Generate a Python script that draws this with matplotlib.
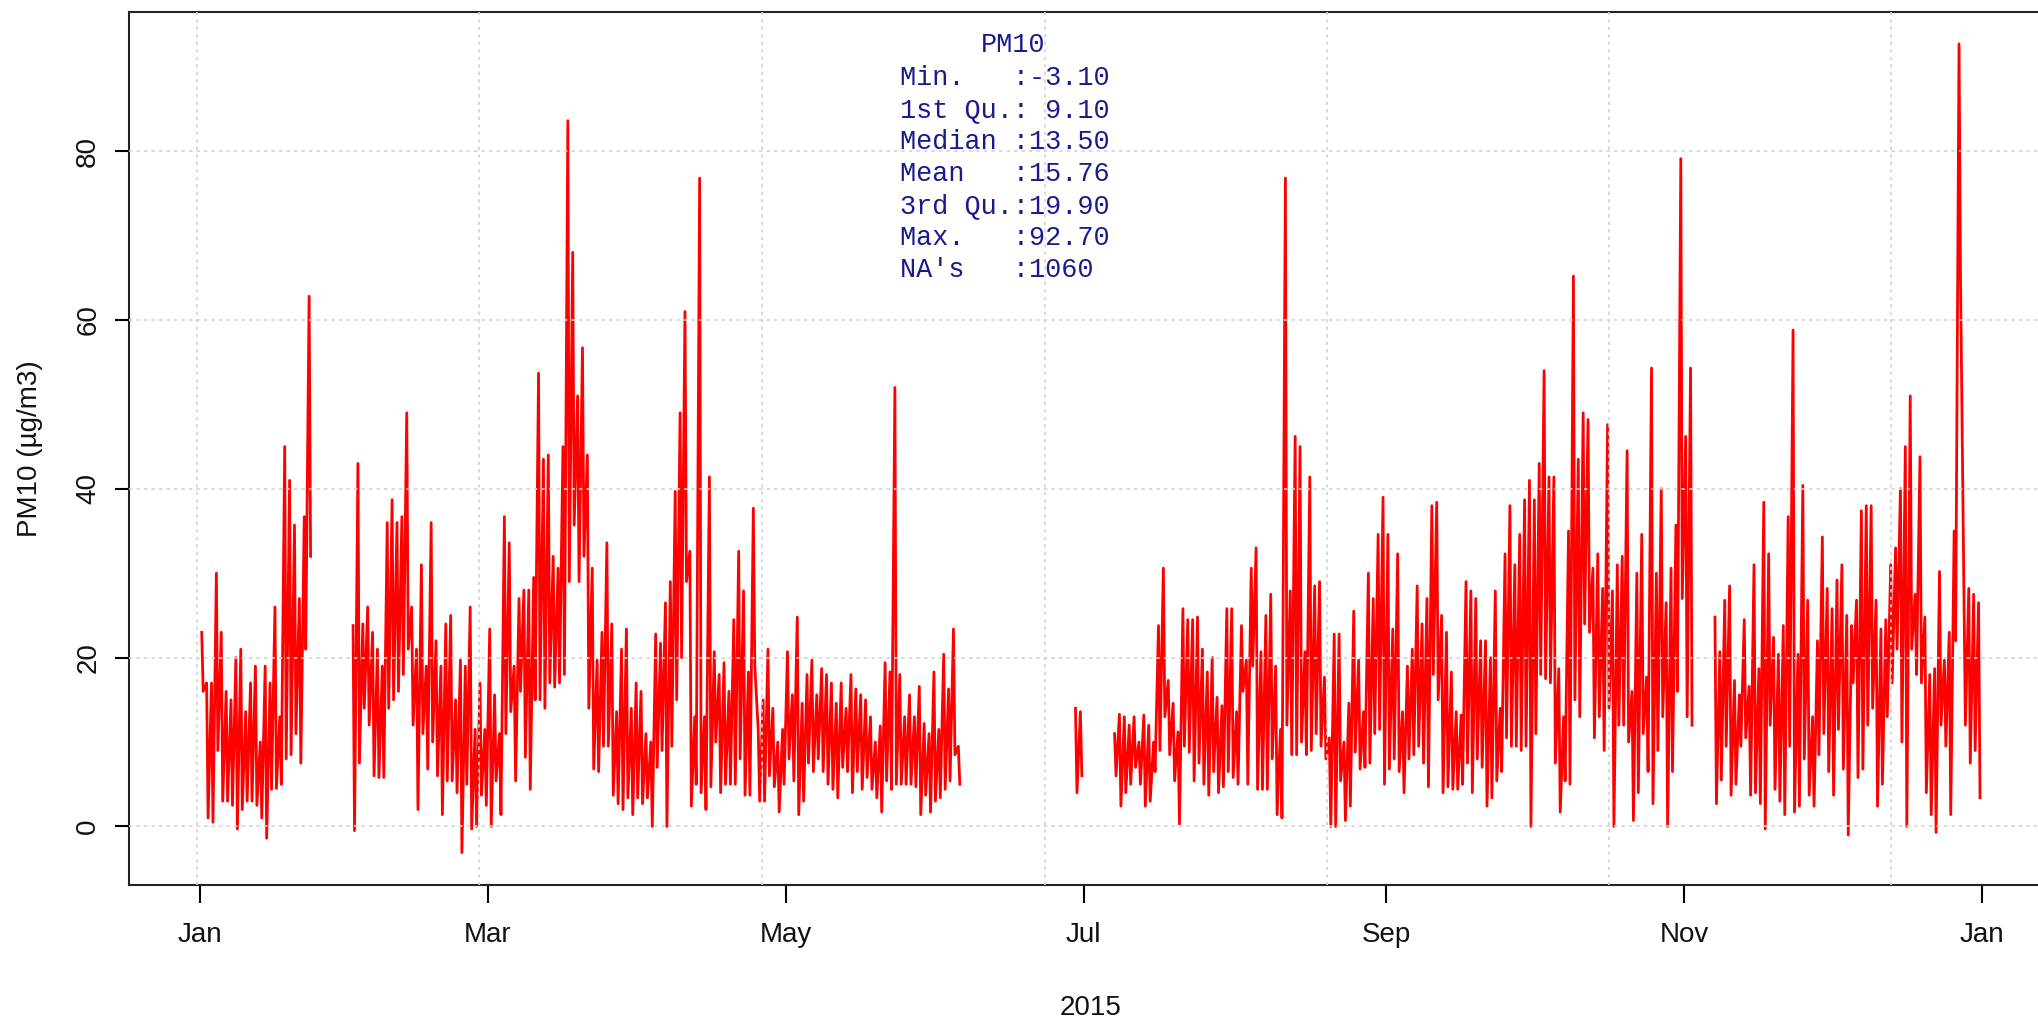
import numpy as np
import matplotlib
matplotlib.use("Agg")
import matplotlib.pyplot as plt

nan = np.nan

# daily high / low of hourly PM10 (µg/m3), day 0 = 1 Jan 2015
pm10_hi = ([23, 17, 17, 30, 23, 16, 15, 20, 21, 13.6, 17, 19, 10, 19, 17, 26, 13, 45, 41, 35.7, 27, 36.7, 62.8]
           + [nan] * 8
           + [23.8, 43, 24, 26, 23, 21, 19, 36, 38.7, 36, 36.7, 49, 26, 21]
           + [31, 19, 36, 22, 19, 24, 25, 15, 19.7, 19, 26, 11.5, 17, 11.5, 23.4, 15.6, 11, 36.7, 33.6, 19,
              27, 28, 28, 29.5, 53.7, 43.5, 44, 32, 30.6, 45, 83.6, 68, 51, 56.7, 44, 30.6, 19.7, 23, 33.6, 24,
              13.6, 21, 23.4, 14, 17, 16, 11, 10, 22.8]
           + [21.7, 26.5, 29, 39.7, 49, 61, 32.6, 13, 76.8, 13, 41.4, 20.7, 18, 19.4, 16, 24.5, 32.6, 27.9,
              18.3, 37.7, 11.5, 15, 21, 14, 10, 11.5, 20.7, 15.6, 24.8, 14.6, 18, 19.7, 15.6, 18.7, 18, 17,
              14.6, 17, 14, 18, 16.3, 15.6, 15, 13, 10, 11.9, 19.4, 18.3, 52]
           + [18, 13, 15.6, 13, 16.6, 12.2, 11, 18.3, 11.5, 20.4, 16.3, 23.4, 9.5]
           + [nan] * 23
           + [14, 13.6]
           + [nan] * 6
           + [11, 13.3, 13, 12, 13, 10]
           + [13.2, 12, 10, 23.8, 30.6, 17.3, 14.6, 11.2, 25.8, 24.5, 24.5, 24.8, 21, 18.3, 20, 15.3, 14.3,
              25.8, 25.8, 13.6, 23.8, 19.7, 30.6, 33, 20.7, 25, 27.5, 19, 11.5, 76.8, 27.9, 46.2, 45, 20.7,
              41.4, 28.5, 29, 17.7, 10.5, 22.8, 22.8, 10, 14.6, 25.5, 19.7, 13.6, 30, 27, 34.6]
           + [39, 34.6, 23.4, 32.3, 13.6, 19, 21, 28.5, 24, 27, 38, 38.4, 25, 23, 18.3, 13.6, 13.2, 29, 27.9,
              27, 22, 22, 20, 27.9, 14, 32.3, 38, 31, 34.6, 38.7, 41, 38.7, 43, 54, 41.4, 41.4, 18.7, 13, 35,
              65.2, 43.5, 49, 48.2, 30.6, 32.3, 28.2, 47.6, 27.9, 31]
           + [32, 44.5, 16, 30, 34.6, 17.7, 54.3, 30, 40, 26.5, 30.6, 35.7, 79.1, 46.2, 54.3]
           + [nan] * 4
           + [24.8, 20.7, 26.8, 28.5, 17.3, 15.6, 24.5, 16.6, 31, 18.7, 38.4, 32.3, 22.4, 20.4, 23.8, 36.7,
              58.8, 20.4, 40.4, 26.8, 13, 22, 34.3, 28.2, 25.8, 29.2, 31, 25, 23.8, 26.8]
           + [37.4, 38, 38, 26.8, 23.4, 24.5, 31, 33, 40, 45, 51, 27.5, 43.8, 24.8, 18, 18.7, 30.2, 19.7, 23,
              35, 92.7, 28.5, 28.2, 27.5, 26.5])

pm10_lo = ([16, 1, 0.5, 9, 3, 3, 2.5, -0.3, 2, 3, 3, 2.5, 1, -1.4, 4.4, 4.5, 5, 8, 8.5, 11, 7.5, 21, 32]
           + [nan] * 8
           + [-0.5, 7.5, 14, 12, 6, 5.8, 5.8, 14, 15, 16, 18, 21, 12, 2]
           + [11, 6.8, 10, 6, 1.4, 5.4, 5.4, 4, -3.1, 5, -0.3, 0, 3.7, 2.5, 0, 5.4, 1.4, 11, 13.6, 5.4, 16,
              8.2, 4.4, 15, 15, 14, 17, 16.5, 17, 18, 29, 35.7, 29, 32, 14, 6.8, 6.5, 9.5, 9.5, 3.7, 2.7, 2,
              3.4, 1.4, 3.4, 2.7, 3.4, 0, 7]
           + [9, 0, 9.5, 15, 20, 29, 2.4, 5, 4, 2, 4.7, 10, 4, 5, 5, 5, 8, 3.7, 3.7, 19, 3, 3, 6, 4.7, 1.7, 5,
              8, 5.4, 1.4, 3, 7.5, 6.5, 8, 6.5, 5, 4.4, 3.4, 7, 6.5, 4, 6.5, 4.4, 5.8, 4.4, 3.4, 1.7, 5.4,
              4.4, 5]
           + [5, 5, 5, 4.7, 1.4, 3.7, 1.7, 3, 3.4, 4.4, 5.4, 8.5, 5]
           + [nan] * 23
           + [4, 6]
           + [nan] * 6
           + [6, 2.4, 4, 5, 7, 5]
           + [2.4, 3, 6.5, 9, 13, 8.5, 5.4, 0.3, 9.5, 8.8, 5.4, 7.5, 5, 3.7, 6.5, 4, 4.7, 6.5, 5.8, 5, 16, 5,
              19, 4.4, 4.4, 4.4, 8, 1.4, 1, 12, 8.5, 8.5, 10, 8.5, 9, 11, 9.5, 8, 0, 0, 5.4, 0.7, 2.4, 8.8,
              6.8, 7, 7.5, 11, 11.5]
           + [5, 6.8, 8, 6.5, 4, 8, 8.5, 9.5, 7.5, 4.7, 18, 15, 4, 4.7, 4.4, 4.4, 5, 7.5, 4, 8, 7, 2.4, 3.4,
              5.4, 6.5, 10.5, 9.5, 9.5, 9, 9.5, 0, 11, 18, 17.5, 17, 7.5, 1.7, 5.4, 5, 15, 13, 24, 23, 10.5,
              13, 9, 14, 0, 12]
           + [12, 10, 0.7, 4, 11, 6.5, 2.7, 9, 13, 0, 6.5, 16, 27, 13, 12]
           + [nan] * 4
           + [2.7, 5.5, 9.5, 3.7, 5, 9.5, 10.5, 3.7, 4, 2.7, -0.3, 12, 4.4, 3, 1.4, 9.5, 1.7, 2.4, 8, 3.7,
              2.4, 8.5, 11, 6.5, 3.7, 11.5, 6.8, -1, 17, 5.8]
           + [6.8, 12, 14, 2.4, 5, 13, 17, 21, 10, 0, 21, 18, 17, 4, 1.4, -0.7, 12, 9.5, 1.4, 22, 65, 12, 7.5,
              9, 3.4])

month_ticks = [0, 59, 120, 181, 243, 304, 365]
month_labels = ["Jan", "Mar", "May", "Jul", "Sep", "Nov", "Jan"]

summary_title = "PM10"
summary_lines = ["Min.   :-3.10",
                 "1st Qu.: 9.10",
                 "Median :13.50",
                 "Mean   :15.76",
                 "3rd Qu.:19.90",
                 "Max.   :92.70",
                 "NA's   :1060"]

W, H = 2038, 1025
fig = plt.figure(figsize=(W / 100, H / 100), dpi=100)
sans = ["Liberation Sans Narrow", "Liberation Sans", "DejaVu Sans"]

# axes box in pixels (right edge falls outside the picture, as in the reference)
left, right, top, bottom = 129, 2053, 11.5, 885
ax = fig.add_axes([left / W, 1 - bottom / H, (right - left) / W, (bottom - top) / H])

days = np.arange(len(pm10_hi))
x = np.column_stack([days + 0.35, days + 0.65]).ravel()
y = np.column_stack([pm10_hi, pm10_lo]).ravel()
ax.plot(x, y, color="red", lw=2.0, zorder=2)

ax.set_xlim(-14.55, 379.6)
ax.set_ylim(-6.93, 96.53)

# dotted grid drawn over the series
for gx in [-0.6, 57.2, 115.1, 173.0, 230.8, 288.7, 346.5]:
    ax.axvline(gx, color="#d3d3d3", lw=1.2, dashes=(2, 2.5), zorder=3)
for gy in [0, 20, 40, 60, 80]:
    ax.axhline(gy, color="#d3d3d3", lw=1.2, dashes=(2, 2.5), zorder=3)

ax.set_xticks(month_ticks)
ax.set_xticklabels(month_labels, family=sans, fontsize=20, color="#111111")
ax.set_yticks([0, 20, 40, 60, 80])
ax.set_yticklabels(["0", "20", "40", "60", "80"], family=sans, fontsize=20, color="#111111",
                   rotation=90, va="center")
ax.tick_params(axis="x", length=13, width=1.5, pad=14)
ax.tick_params(axis="y", length=10, width=1.5, pad=10)
for s in ax.spines.values():
    s.set_linewidth(1.5)
    s.set_color("#222222")

ax.set_xlabel("2015", family=sans, fontsize=20, color="#111111")
ax.xaxis.set_label_coords(0.5, -0.1257)
ax.set_ylabel("PM10 (µg/m3)", family=sans, fontsize=20, color="#111111")
ax.yaxis.set_label_coords((43 - left) / (right - left), 0.5)

# summary box
blue = "#1a1a8f"
fig.text(1013 / W, 1 - 45 / H, summary_title, family="Liberation Mono", fontsize=19.4,
         color=blue, ha="center", va="center")
for i, line in enumerate(summary_lines):
    fig.text(900 / W, 1 - (78 + 32 * i) / H, line, family="Liberation Mono", fontsize=19.4,
             color=blue, ha="left", va="center")

fig.savefig("out.png", dpi=100)
